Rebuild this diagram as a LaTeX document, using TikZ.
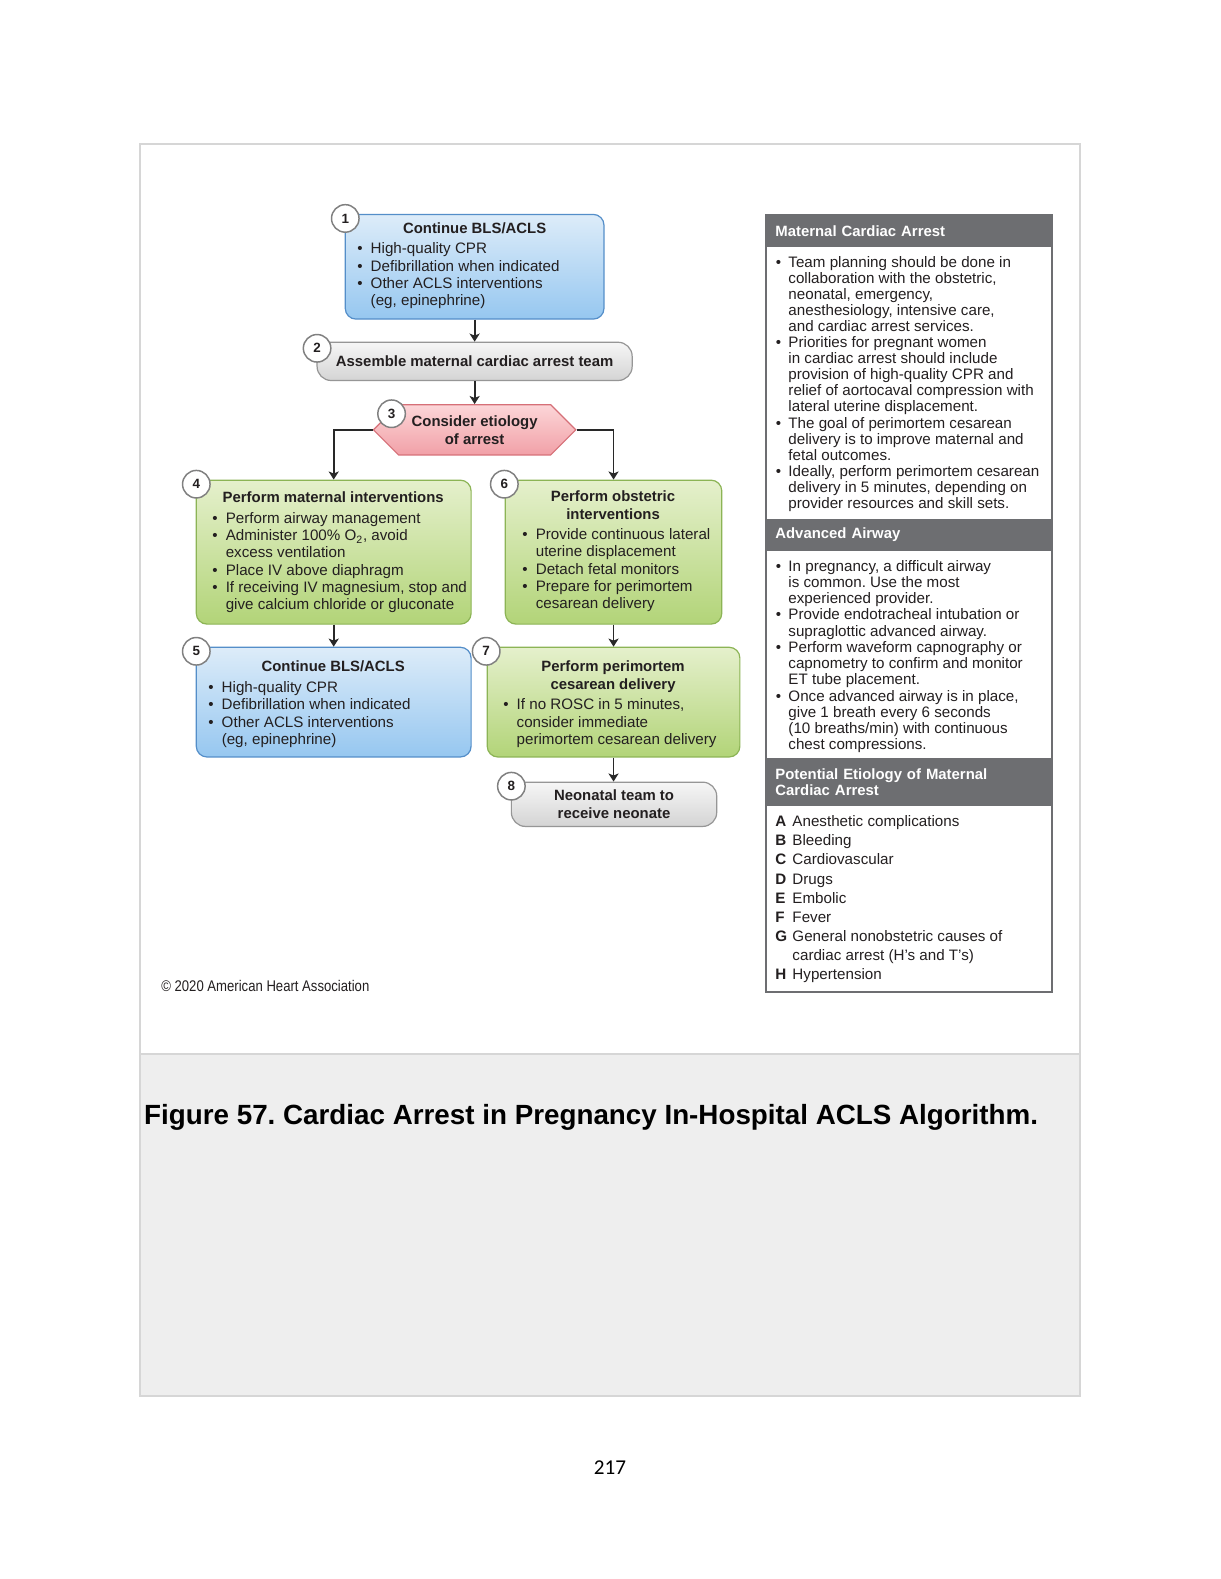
\documentclass[tikz,border=0pt]{standalone}
\usepackage{fontspec}
\setmainfont{Liberation Sans}
\newfontfamily\pagefont{Carlito}
\newfontfamily\narrowfont{Liberation Sans}[FakeStretch=0.85]
\usetikzlibrary{shapes.symbols, arrows.meta, positioning}
\frenchspacing

\definecolor{bluetop}{RGB}{221,236,249}
\definecolor{bluebot}{RGB}{150,199,240}
\definecolor{blueedge}{RGB}{84,142,201}
\definecolor{greentop}{RGB}{229,240,204}
\definecolor{greenbot}{RGB}{178,212,120}
\definecolor{greenedge}{RGB}{140,180,85}
\definecolor{greytop}{RGB}{246,246,246}
\definecolor{greybot}{RGB}{212,212,212}
\definecolor{greyedge}{RGB}{150,150,150}
\definecolor{pinktop}{RGB}{252,214,216}
\definecolor{pinkbot}{RGB}{241,160,167}
\definecolor{pinkedge}{RGB}{214,112,120}
\definecolor{numedge}{RGB}{128,128,128}
\definecolor{panelgrey}{RGB}{109,110,113}
\definecolor{framegrey}{RGB}{214,214,214}
\definecolor{bandgrey}{RGB}{238,238,238}
\definecolor{inkdark}{RGB}{35,31,32}
\definecolor{arrowdark}{RGB}{40,40,40}

\newlength\bw
\newcommand{\itm}{\makebox[\bw][l]{\textbullet}}
\newcommand{\ind}{\makebox[\bw]{}}
\newcommand{\ltr}[1]{\makebox[\bw][l]{\textbf{#1}}}

\begin{document}
\begin{tikzpicture}[x=0.75pt, y=-0.75pt,
  box/.style={draw, line width=0.9pt, rounded corners=8pt, inner sep=0pt},
  bluebox/.style={box, draw=blueedge, top color=bluetop, bottom color=bluebot},
  greenbox/.style={box, draw=greenedge, top color=greentop, bottom color=greenbot},
  greybox/.style={box, draw=greyedge, top color=greytop, bottom color=greybot, rounded corners=10.5pt, align=center, text=inkdark, font=\fontsize{11.1}{13.5}\selectfont\bfseries},
  hexbox/.style={signal, signal to=east and west, signal pointer angle=90, draw=pinkedge, line width=0.9pt, top color=pinktop, bottom color=pinkbot, inner sep=0pt, align=center, text=inkdark, font=\fontsize{11.1}{13.5}\selectfont\bfseries},
  numc/.style={circle, draw=numedge, line width=1.1pt, fill=white, minimum size=20.5pt, inner sep=0pt, text=inkdark, font=\fontsize{10}{10}\selectfont\bfseries},
  ttl/.style={inner sep=0pt, align=center, text=inkdark, font=\fontsize{11.1}{13.5}\selectfont\bfseries},
  lst/.style={inner sep=0pt, anchor=north west, align=left, text=inkdark, font=\fontsize{11.3}{12.75}\selectfont\setlength\bw{10pt}},
  plst/.style={lst, font=\fontsize{11.3}{12}\selectfont\setlength\bw{9.45pt}},
  hdr/.style={fill=panelgrey, text=white, anchor=north west, inner xsep=7.5pt, inner ysep=0pt, text width=198pt, align=left, font=\fontsize{11.1}{12}\selectfont\bfseries},
  flow/.style={draw=arrowdark, line width=1.3pt, -{Stealth[length=6pt, width=7.5pt, inset=1.5pt]}}
]
  \useasboundingbox (0,0) rectangle (1212,1568.6);
  \fill[white] (0,0) rectangle (1212,1568.6);
  % page frame and caption band
  \fill[bandgrey] (139,1047) rectangle (1073,1387);
  \draw[framegrey, line width=1.5pt] (139,1047) -- (1073,1047);
  \draw[framegrey, line width=1.5pt] (139,143) rectangle (1073,1387);

  % algorithm boxes
  \node[bluebox, minimum width=192.75pt, minimum height=78pt] (bls1) at (471.5,265) {};
  \node[greybox, minimum width=234.75pt, minimum height=28.5pt] (team) at (471.5,359) {Assemble maternal cardiac arrest team};
  \node[hexbox, minimum width=150.75pt, minimum height=37.5pt] (etio) at (471.5,427) {Consider etiology\\of arrest};
  \node[greenbox, minimum width=204.75pt, minimum height=107.25pt] (mat) at (331.5,548.5) {};
  \node[greenbox, minimum width=161.25pt, minimum height=107.25pt] (obst) at (609.5,548.5) {};
  \node[bluebox, minimum width=204.75pt, minimum height=81.75pt] (bls2) at (331.5,697.5) {};
  \node[greenbox, minimum width=188.25pt, minimum height=81.75pt] (cesar) at (609.5,697.5) {};
  \node[greybox, minimum width=153pt, minimum height=33pt] (neo) at (610,799) {Neonatal team to\\receive neonate};

  % box texts
  \node[ttl, anchor=base] (bls1t) at (471.5,232) {Continue BLS/ACLS};
  \node[lst] (bls1l) at (354.7,240.1) {\strut\itm High-quality CPR\\
    \itm Defibrillation when indicated\\
    \itm Other ACLS interventions\\
    \ind (eg, epinephrine)};
  \node[ttl, anchor=base] (matt) at (331,499) {Perform maternal interventions};
  \node[lst] (matl) at (210.7,508.1) {\strut\itm Perform airway management\\
    \itm Administer 100\% O\textsubscript{2}, avoid\\
    \ind excess ventilation\\
    \itm Place IV above diaphragm\\
    \itm If receiving IV magnesium, stop and\\
    \ind give calcium chloride or gluconate};
  \node[ttl, anchor=north] (obstt) at (609,485.4) {\strut Perform obstetric\\interventions};
  \node[lst] (obstl) at (518.7,524.1) {\strut\itm Provide continuous lateral\\
    \ind uterine displacement\\
    \itm Detach fetal monitors\\
    \itm Prepare for perimortem\\
    \ind cesarean delivery};
  \node[ttl, anchor=base] (bls2t) at (331,667) {Continue BLS/ACLS};
  \node[lst] (bls2l) at (206.7,676.1) {\strut\itm High-quality CPR\\
    \itm Defibrillation when indicated\\
    \itm Other ACLS interventions\\
    \ind (eg, epinephrine)};
  \node[ttl, anchor=north] (cesart) at (609,654.4) {\strut Perform perimortem\\cesarean delivery};
  \node[lst] (cesarl) at (499.7,693.1) {\strut\itm If no ROSC in 5 minutes,\\
    \ind consider immediate\\
    \ind perimortem cesarean delivery};

  % step numbers
  \node[numc] (n1) at (343,217) {1};
  \node[numc] (n2) at (315,346) {2};
  \node[numc] (n3) at (389,411) {3};
  \node[numc] (n4) at (195,481) {4};
  \node[numc] (n6) at (501,481) {6};
  \node[numc] (n5) at (195,647) {5};
  \node[numc] (n7) at (483,647) {7};
  \node[numc] (n8) at (508,781) {8};

  % connectors
  \draw[flow] (bls1.south) -- (team.north);
  \draw[flow] (team.south) -- (etio.north);
  \draw[flow] (etio.west) -| (mat.north);
  \draw[flow] (etio.east) -| (obst.north);
  \draw[flow] (mat.south) -- (bls2.north);
  \draw[flow] (obst.south) -- (cesar.north);
  \draw[flow] (cesar.south) -- (cesar.south |- neo.north);

  % side panel
  \node[draw=panelgrey, line width=1.5pt, minimum width=213pt, minimum height=578.25pt, anchor=north west, inner sep=0pt] (panel) at (760,213) {};
  \node[hdr, minimum height=24pt] (hmca) at (760,213) {Maternal Cardiac Arrest};
  \node[plst] (mcal) at (770.4,253.8) {\strut\itm Team planning should be done in\\
    \ind collaboration with the obstetric,\\
    \ind neonatal, emergency,\\
    \ind anesthesiology, intensive care,\\
    \ind and cardiac arrest services.\\
    \itm Priorities for pregnant women\\
    \ind in cardiac arrest should include\\
    \ind provision of high-quality CPR and\\
    \ind relief of aortocaval compression with\\
    \ind lateral uterine displacement.\\
    \itm The goal of perimortem cesarean\\
    \ind delivery is to improve maternal and\\
    \ind fetal outcomes.\\
    \itm Ideally, perform perimortem cesarean\\
    \ind delivery in 5 minutes, depending on\\
    \ind provider resources and skill sets.};
  \node[hdr, minimum height=24pt] (haa) at (760,515) {Advanced Airway};
  \node[plst, font=\fontsize{11.3}{12.1}\selectfont\setlength\bw{9.45pt}] (aal) at (770.4,555.8) {\strut\itm In pregnancy, a difficult airway\\
    \ind is common. Use the most\\
    \ind experienced provider.\\
    \itm Provide endotracheal intubation or\\
    \ind supraglottic advanced airway.\\
    \itm Perform waveform capnography or\\
    \ind capnometry to confirm and monitor\\
    \ind ET tube placement.\\
    \itm Once advanced airway is in place,\\
    \ind give 1 breath every 6 seconds\\
    \ind (10 breaths/min) with continuous\\
    \ind chest compressions.};
  \node[hdr, minimum height=35.25pt] (hpe) at (760,753) {Potential Etiology of Maternal\\Cardiac Arrest};
  \node[plst, font=\fontsize{11.3}{14.25}\selectfont\setlength\bw{12.75pt}] (pel) at (770,807.7) {\strut\ltr{A}Anesthetic complications\\
    \ltr{B}Bleeding\\
    \ltr{C}Cardiovascular\\
    \ltr{D}Drugs\\
    \ltr{E}Embolic\\
    \ltr{F}Fever\\
    \ltr{G}General nonobstetric causes of\\
    \ind cardiac arrest (H’s and T’s)\\
    \ltr{H}Hypertension};

  % credit, caption, page number
  \node[anchor=base west, inner sep=0pt, text=inkdark, font=\narrowfont\fontsize{11.5}{12}\selectfont] (credit) at (160,985) {© 2020 American Heart Association};
  \node[anchor=base west, inner sep=0pt, font=\fontsize{20.7}{24}\selectfont\bfseries] (caption) at (143,1117) {Figure 57. Cardiac Arrest in Pregnancy In-Hospital ACLS Algorithm.};
  \node[font=\pagefont\fontsize{15.75}{18}\selectfont] (pageno) at (606,1458) {217};
\end{tikzpicture}
\end{document}
